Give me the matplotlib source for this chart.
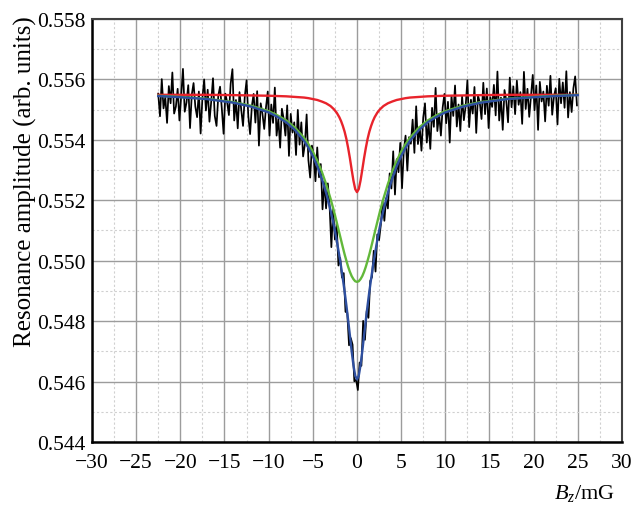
import numpy as np
import matplotlib
matplotlib.use("Agg")
import matplotlib.pyplot as plt
from matplotlib.ticker import MultipleLocator, FormatStrFormatter

plt.rcParams["font.family"] = ["Liberation Serif", "DejaVu Serif"]
plt.rcParams["mathtext.fontset"] = "custom"
plt.rcParams["mathtext.rm"] = "Liberation Serif"
plt.rcParams["mathtext.it"] = "Liberation Serif:italic"

# measured trace: first sample position and spacing (mG), then amplitudes
signal_start = -22.5
signal_step = 0.2
signal = [
    0.55553, 0.55478, 0.55601, 0.55504, 0.55541, 0.55456, 0.55578, 0.55521, 0.55623, 0.55487,
    0.55510, 0.55569, 0.55464, 0.55546, 0.55635, 0.55493, 0.55523, 0.55581, 0.55439, 0.55550,
    0.55588, 0.55510, 0.55475, 0.55560, 0.55421, 0.55538, 0.55600, 0.55497, 0.55566, 0.55460,
    0.55527, 0.55604, 0.55479, 0.55446, 0.55547, 0.55576, 0.55503, 0.55420, 0.55553, 0.55525,
    0.55482, 0.55586, 0.55634, 0.55464, 0.55532, 0.55438, 0.55558, 0.55499, 0.55446, 0.55544,
    0.55597, 0.55478, 0.55419, 0.55512, 0.55552, 0.55457, 0.55561, 0.55381, 0.55521, 0.55486,
    0.55436, 0.55508, 0.55560, 0.55414, 0.55517, 0.55456, 0.55573, 0.55414, 0.55470, 0.55374,
    0.55503, 0.55470, 0.55414, 0.55514, 0.55347, 0.55486, 0.55424, 0.55458, 0.55350, 0.55499,
    0.55384, 0.55458, 0.55345, 0.55385, 0.55484, 0.55333, 0.55275, 0.55381, 0.55348, 0.55263,
    0.55375, 0.55276, 0.55320, 0.55170, 0.55262, 0.55173, 0.55256, 0.55180, 0.55045, 0.55171,
    0.55070, 0.55121, 0.54984, 0.55009, 0.54944, 0.54959, 0.54831, 0.54828, 0.54720, 0.54744,
    0.54722, 0.54601, 0.54606, 0.54572, 0.54663, 0.54652, 0.54801, 0.54738, 0.54834, 0.54811,
    0.54933, 0.54946, 0.55033, 0.54964, 0.55087, 0.55068, 0.55119, 0.55196, 0.55132, 0.55207,
    0.55173, 0.55289, 0.55239, 0.55362, 0.55219, 0.55336, 0.55293, 0.55390, 0.55240, 0.55365,
    0.55414, 0.55298, 0.55409, 0.55387, 0.55467, 0.55357, 0.55511, 0.55386, 0.55443, 0.55364,
    0.55474, 0.55521, 0.55391, 0.55456, 0.55370, 0.55506, 0.55443, 0.55572, 0.55429, 0.55486,
    0.55414, 0.55507, 0.55552, 0.55455, 0.55526, 0.55391, 0.55546, 0.55479, 0.55580, 0.55444,
    0.55517, 0.55429, 0.55544, 0.55465, 0.55511, 0.55597, 0.55442, 0.55533, 0.55487, 0.55575,
    0.55423, 0.55547, 0.55524, 0.55469, 0.55589, 0.55485, 0.55570, 0.55439, 0.55541, 0.55509,
    0.55582, 0.55481, 0.55626, 0.55464, 0.55540, 0.55433, 0.55565, 0.55530, 0.55458, 0.55606,
    0.55508, 0.55577, 0.55485, 0.55596, 0.55516, 0.55558, 0.55453, 0.55625, 0.55502, 0.55569,
    0.55476, 0.55545, 0.55615, 0.55498, 0.55580, 0.55433, 0.55592, 0.55527, 0.55560, 0.55461,
    0.55579, 0.55513, 0.55612, 0.55483, 0.55544, 0.55571, 0.55451, 0.55602, 0.55521, 0.55590,
    0.55506, 0.55627, 0.55474, 0.55558, 0.55492, 0.55571, 0.55610, 0.55514,
]

# fitted curves
fit_x = [-22.5, -20, -17, -14, -12, -10, -9, -8, -7, -6, -5.5, -5, -4.5, -4, -3.5, -3,
         -2.6, -2.3, -2, -1.8, -1.6, -1.4, -1.2, -1, -0.8, -0.6, -0.4, -0.2, 0,
         0.2, 0.4, 0.6, 0.8, 1, 1.2, 1.4, 1.6, 1.8, 2, 2.3, 2.6, 3, 3.5, 4, 4.5,
         5, 5.5, 6, 7, 8, 9, 10, 12, 14, 17, 20, 22.5, 25]
narrow_fit = [0.55549, 0.55549, 0.55549, 0.55548, 0.55547, 0.55546, 0.55545, 0.55544, 0.55542, 0.55540,
              0.55538, 0.55535, 0.55532, 0.55527, 0.55521, 0.55512, 0.55501, 0.55490, 0.55475, 0.55462,
              0.55446, 0.55427, 0.55403, 0.55373, 0.55339, 0.55301, 0.55265, 0.55237, 0.55227,
              0.55237, 0.55265, 0.55301, 0.55339, 0.55373, 0.55403, 0.55427, 0.55446, 0.55462, 0.55475,
              0.55490, 0.55501, 0.55512, 0.55521, 0.55527, 0.55532, 0.55535, 0.55538, 0.55540, 0.55542,
              0.55544, 0.55545, 0.55546, 0.55547, 0.55548, 0.55549, 0.55549, 0.55549, 0.55549]
broad_fit = [0.55546, 0.55542, 0.55536, 0.55525, 0.55513, 0.55495, 0.55481, 0.55464, 0.55440, 0.55407,
             0.55386, 0.55361, 0.55331, 0.55296, 0.55254, 0.55206, 0.55163, 0.55128, 0.55092, 0.55068,
             0.55044, 0.55021, 0.55000, 0.54980, 0.54963, 0.54949, 0.54939, 0.54932, 0.54930,
             0.54932, 0.54939, 0.54949, 0.54963, 0.54980, 0.55000, 0.55021, 0.55044, 0.55068, 0.55092,
             0.55128, 0.55163, 0.55206, 0.55254, 0.55296, 0.55331, 0.55361, 0.55386, 0.55407, 0.55440,
             0.55464, 0.55481, 0.55495, 0.55513, 0.55525, 0.55536, 0.55542, 0.55546, 0.55549]
total_fit = [0.55545, 0.55541, 0.55535, 0.55523, 0.55510, 0.55491, 0.55476, 0.55458, 0.55432, 0.55397,
             0.55374, 0.55346, 0.55313, 0.55273, 0.55225, 0.55168, 0.55114, 0.55068, 0.55017, 0.54980,
             0.54940, 0.54898, 0.54852, 0.54803, 0.54752, 0.54700, 0.54654, 0.54619, 0.54607,
             0.54619, 0.54654, 0.54700, 0.54752, 0.54803, 0.54852, 0.54898, 0.54940, 0.54980, 0.55017,
             0.55068, 0.55114, 0.55168, 0.55225, 0.55273, 0.55313, 0.55346, 0.55374, 0.55397, 0.55432,
             0.55458, 0.55476, 0.55491, 0.55510, 0.55523, 0.55535, 0.55541, 0.55545, 0.55548]

signal_x = signal_start + signal_step * np.arange(len(signal))

fig = plt.figure(figsize=(6.33, 5.06), dpi=100)
ax = fig.add_axes([0.1453, 0.1245, 0.8373, 0.836])

ax.plot(signal_x, signal, color="black", lw=1.25, zorder=3)
ax.plot(fit_x, narrow_fit, color="#e8232b", lw=1.7, zorder=4)
ax.plot(fit_x, broad_fit, color="#62b83a", lw=1.7, zorder=4)
ax.plot(fit_x, total_fit, color="#2e4f9f", lw=1.7, zorder=5)

ax.set_xlim(-30, 30)
ax.set_ylim(0.544, 0.558)
ax.xaxis.set_major_locator(MultipleLocator(5))
ax.xaxis.set_minor_locator(MultipleLocator(2.5))
ax.yaxis.set_major_locator(MultipleLocator(0.002))
ax.yaxis.set_minor_locator(MultipleLocator(0.001))
ax.yaxis.set_major_formatter(FormatStrFormatter("%.3f"))
ax.tick_params(which="both", length=0, labelsize=15.5)
ax.tick_params(axis="x", pad=8)
ax.tick_params(axis="y", pad=4.5)

ax.grid(which="major", color="#9c9c9c", lw=1.0, zorder=0)
ax.grid(which="minor", color="#d0d0d0", lw=0.8, ls=(0, (2, 2)), zorder=0)
ax.set_axisbelow(True)

for side in ["left", "bottom"]:
    ax.spines[side].set_color("black")
    ax.spines[side].set_linewidth(1.8)
for side in ["top", "right"]:
    ax.spines[side].set_color("#404040")
    ax.spines[side].set_linewidth(1.5)

fig.text(25 / 633, 1 - 182 / 506, "Resonance amplitude (arb. units)", fontsize=18,
         rotation=90, ha="center", va="center")
fig.text(615 / 633, 1 - 494 / 506, r"$B_z$/mG", fontsize=16, ha="right", va="center")

fig.savefig("out.png", dpi=100)
